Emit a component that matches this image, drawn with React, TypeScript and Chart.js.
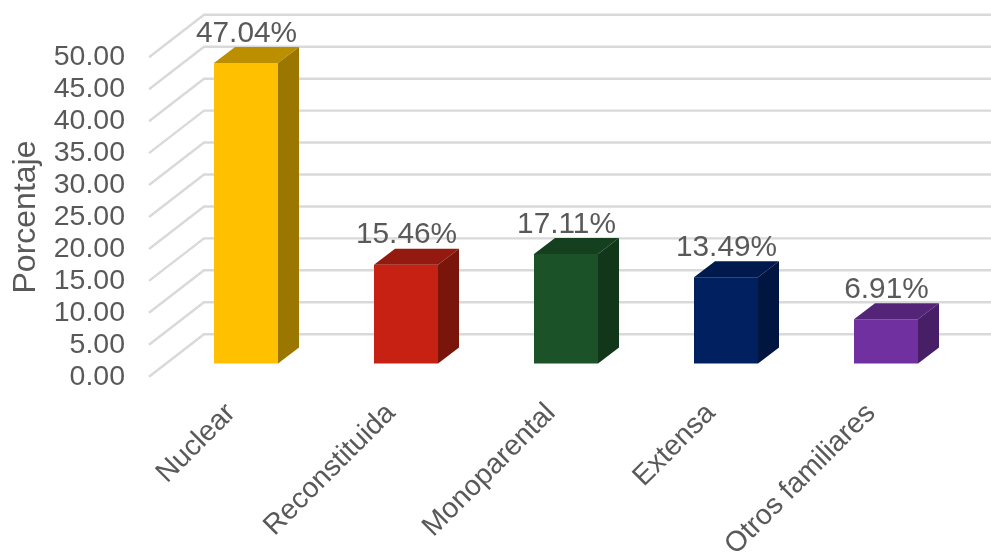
import React, { useEffect, useRef } from "react";
import { Chart, registerables } from "chart.js";

Chart.register(...registerables);

const categories = ["Nuclear", "Reconstituida", "Monoparental", "Extensa", "Otros familiares"];
const values = [47.04, 15.46, 17.11, 13.49, 6.91];
const frontColors = ["#FFC000", "#C62112", "#1B5228", "#002060", "#7030A0"];
const topColors = ["#BC8F00", "#94190E", "#15401F", "#001A4E", "#542478"];
const sideColors = ["#9C7700", "#7A150B", "#11361A", "#001540", "#461F66"];

const WALL_DX = 55;
const WALL_DY = 42.5;
const BAR_SHIFT_X = 17;
const BAR_SHIFT_Y = 13.3;
const DEPTH_X = 21;
const DEPTH_Y = 16;
const TEXT = "#595959";
const FONT = "Liberation Sans";

const poly = (ctx: CanvasRenderingContext2D, pts: number[][], color: string) => {
  ctx.beginPath();
  pts.forEach(([x, y], i) => (i ? ctx.lineTo(x, y) : ctx.moveTo(x, y)));
  ctx.closePath();
  ctx.fillStyle = color;
  ctx.fill();
};

const box3d = {
  id: "box3d",
  beforeDatasetsDraw(chart: any) {
    const { ctx, scales, chartArea } = chart;
    const y = scales.y;
    ctx.save();
    ctx.strokeStyle = "#D9D9D9";
    ctx.lineWidth = 2.4;
    y.ticks.forEach((t: any) => {
      const py = y.getPixelForValue(t.value);
      ctx.beginPath();
      ctx.moveTo(chartArea.left, py);
      ctx.lineTo(chartArea.left + WALL_DX, py - WALL_DY);
      ctx.lineTo(chartArea.right + WALL_DX, py - WALL_DY);
      ctx.stroke();
    });
    ctx.restore();
  },
  beforeDatasetDraw(chart: any) {
    chart.ctx.save();
    chart.ctx.translate(BAR_SHIFT_X, -BAR_SHIFT_Y);
  },
  afterDatasetDraw(chart: any, args: any) {
    const { ctx } = chart;
    chart.ctx.restore();
    ctx.save();
    args.meta.data.forEach((bar: any, i: number) => {
      const p = bar.getProps(["x", "y", "base", "width"], true);
      const l = p.x - p.width / 2 + BAR_SHIFT_X;
      const r = p.x + p.width / 2 + BAR_SHIFT_X;
      const t = p.y - BAR_SHIFT_Y;
      const b = p.base - BAR_SHIFT_Y;
      poly(ctx, [[l, t], [r, t], [r + DEPTH_X, t - DEPTH_Y], [l + DEPTH_X, t - DEPTH_Y]], topColors[i]);
      poly(ctx, [[r, t], [r + DEPTH_X, t - DEPTH_Y], [r + DEPTH_X, b - DEPTH_Y], [r, b]], sideColors[i]);
      ctx.fillStyle = TEXT;
      ctx.font = `29.8px "${FONT}"`;
      ctx.textAlign = "center";
      ctx.textBaseline = "middle";
      ctx.fillText(`${values[i].toFixed(2)}%`, (l + r) / 2 + 0.5, t - 29.5);
    });
    ctx.restore();
  },
};

export default function App() {
  const ref = useRef<HTMLCanvasElement>(null);
  useEffect(() => {
    const chart = new Chart(ref.current!, {
      type: "bar",
      data: {
        labels: categories,
        datasets: [
          {
            data: values,
            backgroundColor: frontColors,
            barPercentage: 0.4,
            categoryPercentage: 1,
            clip: false as any,
          },
        ],
      },
      options: {
        animation: false,
        responsive: false,
        layout: { padding: { top: 57.3, right: 42, left: 0, bottom: 0 } },
        plugins: { legend: { display: false }, tooltip: { enabled: false } },
        scales: {
          x: {
            grid: { display: false },
            border: { display: false },
            ticks: {
              color: TEXT,
              font: { family: FONT, size: 28.5 },
              maxRotation: 45,
              minRotation: 45,
              padding: 12,
              labelOffset: 2,
              autoSkip: false,
            },
            afterFit(s: any) {
              s.height = 177.3;
              s.paddingLeft = 0;
              s.paddingRight = 0;
            },
          },
          y: {
            min: 0,
            max: 50,
            grid: { display: false },
            border: { display: false },
            ticks: {
              stepSize: 5,
              autoSkip: false,
              color: TEXT,
              font: { family: FONT, size: 28.5 },
              padding: 16,
              callback: (v: any) => Number(v).toFixed(2),
            },
            title: {
              display: true,
              text: "Porcentaje",
              color: TEXT,
              font: { family: FONT, size: 32, weight: "normal" },
              padding: { top: 7, bottom: 0 },
            },
            afterFit(s: any) {
              s.width = 149;
              s.paddingTop = 0;
              s.paddingBottom = 0;
            },
          },
        },
      },
      plugins: [box3d],
    } as any);
    return () => chart.destroy();
  }, []);
  return (
    <div style={{ position: "fixed", left: 0, top: 0, width: 991, height: 554, background: "#fff" }}>
      <canvas ref={ref} width={991} height={554} style={{ display: "block", filter: "blur(0.5px)" }} />
    </div>
  );
}
